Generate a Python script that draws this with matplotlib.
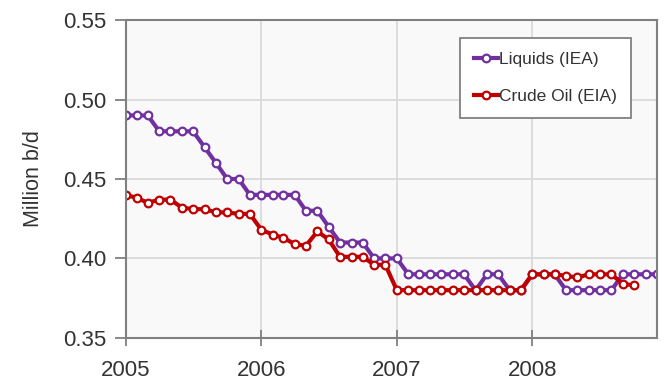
import matplotlib
matplotlib.use("Agg")
import matplotlib.pyplot as plt
import matplotlib.dates as mdates
import pandas as pd

plt.rcParams["font.family"] = ["Liberation Sans", "DejaVu Sans"]

# monthly values, Jan 2005 onwards
months = pd.date_range("2005-01-01", periods=48, freq="MS")

liquids_iea = [
    0.49, 0.49, 0.49, 0.48, 0.48, 0.48, 0.48, 0.47, 0.46, 0.45, 0.45, 0.44,
    0.44, 0.44, 0.44, 0.44, 0.43, 0.43, 0.42, 0.41, 0.41, 0.41, 0.40, 0.40,
    0.40, 0.39, 0.39, 0.39, 0.39, 0.39, 0.39, 0.38, 0.39, 0.39, 0.38, 0.38,
    0.39, 0.39, 0.39, 0.38, 0.38, 0.38, 0.38, 0.38, 0.39, 0.39, 0.39, 0.39,
]
crude_eia = [
    0.440, 0.438, 0.435, 0.437, 0.437, 0.432, 0.431, 0.431, 0.429, 0.429, 0.428, 0.428,
    0.418, 0.415, 0.413, 0.409, 0.408, 0.417, 0.412, 0.401, 0.401, 0.401, 0.396, 0.396,
    0.380, 0.380, 0.380, 0.380, 0.380, 0.380, 0.380, 0.380, 0.380, 0.380, 0.380, 0.380,
    0.390, 0.390, 0.390, 0.389, 0.388, 0.390, 0.390, 0.390, 0.384, 0.383,
]

y_ticks = [0.35, 0.40, 0.45, 0.50, 0.55]
year_ticks = pd.to_datetime(["2005-01-01", "2006-01-01", "2007-01-01", "2008-01-01"])

fig = plt.figure(figsize=(6.66, 3.87), dpi=100)
ax = fig.add_axes([0.189, 0.127, 0.797, 0.821])
ax.set_facecolor("#f9f9f9")

mk = dict(marker="o", markersize=5.5, markerfacecolor="white", markeredgewidth=1.6)
ax.plot(months, liquids_iea, color="#7030a0", linewidth=3, label="Liquids (IEA)",
        markeredgecolor="#7030a0", **mk)
ax.plot(months[:len(crude_eia)], crude_eia, color="#c00000", linewidth=3,
        label="Crude Oil (EIA)", markeredgecolor="#c00000", **mk)

ax.set_ylim(0.35, 0.55)
ax.set_yticks(y_ticks)
ax.set_yticklabels([f"{v:.2f}" for v in y_ticks])
ax.set_xlim(months[0], months[-1])
ax.set_xticks(year_ticks)
ax.xaxis.set_major_formatter(mdates.DateFormatter("%Y"))
ax.set_ylabel("Million b/d", fontsize=15.5, color="#333333")
ax.yaxis.set_label_coords(-0.155, 0.5)

ax.grid(True, color="#d9d9d9", linewidth=1.3)
ax.set_axisbelow(True)
for s in ax.spines.values():
    s.set_color("#808080")
    s.set_linewidth(1.5)
ax.tick_params(axis="y", direction="out", length=8, width=1.3, color="#808080",
               labelsize=16, labelcolor="#333333", pad=6)
ax.tick_params(axis="x", direction="inout", length=12, width=1.3, color="#808080",
               labelsize=16, labelcolor="#333333", pad=10)

leg = ax.legend(loc="upper right", bbox_to_anchor=(0.951, 0.943), fontsize=12.5,
                fancybox=False, framealpha=1, edgecolor="#808080", handlelength=1.4,
                handletextpad=0.05, labelspacing=1.25, borderpad=0.8, borderaxespad=0)
leg.get_frame().set_linewidth(1.3)
for t in leg.get_texts():
    t.set_color("#333333")

plt.savefig("out.png", dpi=100)
plt.close()
